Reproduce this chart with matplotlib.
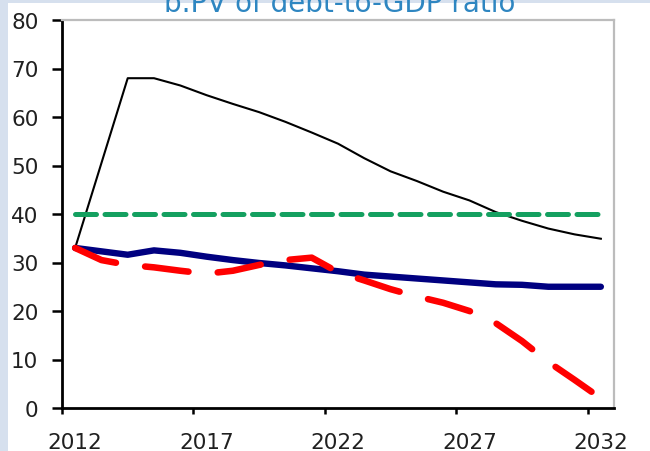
import matplotlib
matplotlib.use('Agg')
import matplotlib.pyplot as plt
from matplotlib.patches import Rectangle

years = list(range(2012, 2033))
tick_years = [2012, 2017, 2022, 2027, 2032]

# PV of debt-to-GDP ratio
threshold = [40] * 21
baseline = [33, 32.3, 31.6, 32.5, 32.0, 31.2, 30.5, 29.9, 29.4, 28.8, 28.2,
            27.5, 27.1, 26.7, 26.3, 25.9, 25.5, 25.4, 25.0, 25.0, 25.0]
historical = [33, 30.5, 29.5, 29.0, 28.3, 27.7, 28.3, 29.5, 30.5, 31.0, 28.0,
              26.3, 24.5, 23.0, 21.7, 20.0, 17.5, 13.8, 9.5, 5.8, 2.0]
extreme_shock = [33, 50.5, 68, 68, 66.5, 64.5, 62.7, 61, 59, 56.8, 54.5,
                 51.5, 48.8, 46.8, 44.6, 42.8, 40.4, 38.6, 37.0, 35.8, 34.9]

text_color = '#202020'
band_color = '#d6e0ee'

fig = plt.figure(figsize=(6.5, 4.52), dpi=100)
fig.patch.set_facecolor('white')

# light blue page strips around the cropped chart
fig.patches.append(Rectangle((0, 0), 8 / 650, 1, transform=fig.transFigure,
                             facecolor=band_color, edgecolor='none', zorder=0))
fig.patches.append(Rectangle((0, 1 - 4 / 452), 1, 4 / 452, transform=fig.transFigure,
                             facecolor=band_color, edgecolor='none', zorder=0))

# title, cut off at the top of the crop like in the source
fig.text(0.523, 1 - 12 / 452, 'b.PV of debt-to-GDP ratio', color='#2e86c1',
         fontsize=20, ha='center', va='baseline')

ax = fig.add_axes([62 / 650, 1 - 409 / 452, 552 / 650, 388 / 452])

x = list(range(len(years)))
ax.plot(x, extreme_shock, color='black', lw=1.5, zorder=3)
ax.plot(x, baseline, color='#000080', lw=4.6, solid_capstyle='round', zorder=4)
ax.plot(x, threshold, color='#14a060', lw=3.6, dashes=(4.2, 1.7),
        dash_capstyle='round', zorder=5)
ax.plot(x, historical, color='#ff0000', lw=4.7, dashes=(6.7, 4.5),
        dash_capstyle='round', zorder=6)

ax.set_xlim(-0.5, len(years) - 0.5)
ax.set_ylim(0, 80)

# ticks at category boundaries, labels at category centres
ax.set_xticks([years.index(y) - 0.5 for y in tick_years])
ax.set_xticklabels([])
ax.set_xticks([years.index(y) for y in tick_years], minor=True)
ax.set_xticklabels([str(y) for y in tick_years], minor=True)
ax.set_yticks(range(0, 81, 10))

ax.tick_params(axis='x', which='major', direction='out', length=4.5, width=1.8,
               color='black')
ax.tick_params(axis='x', which='minor', length=0, pad=17, labelsize=15.5,
               labelcolor=text_color)
ax.tick_params(axis='y', direction='out', length=7, width=1.8, pad=10,
               labelsize=15.5, labelcolor=text_color)

for side in ['left', 'bottom']:
    ax.spines[side].set_color('black')
    ax.spines[side].set_linewidth(2)
for side in ['top', 'right']:
    ax.spines[side].set_color('#bcbcbc')
    ax.spines[side].set_linewidth(1.6)

fig.savefig('out.png', dpi=100)
